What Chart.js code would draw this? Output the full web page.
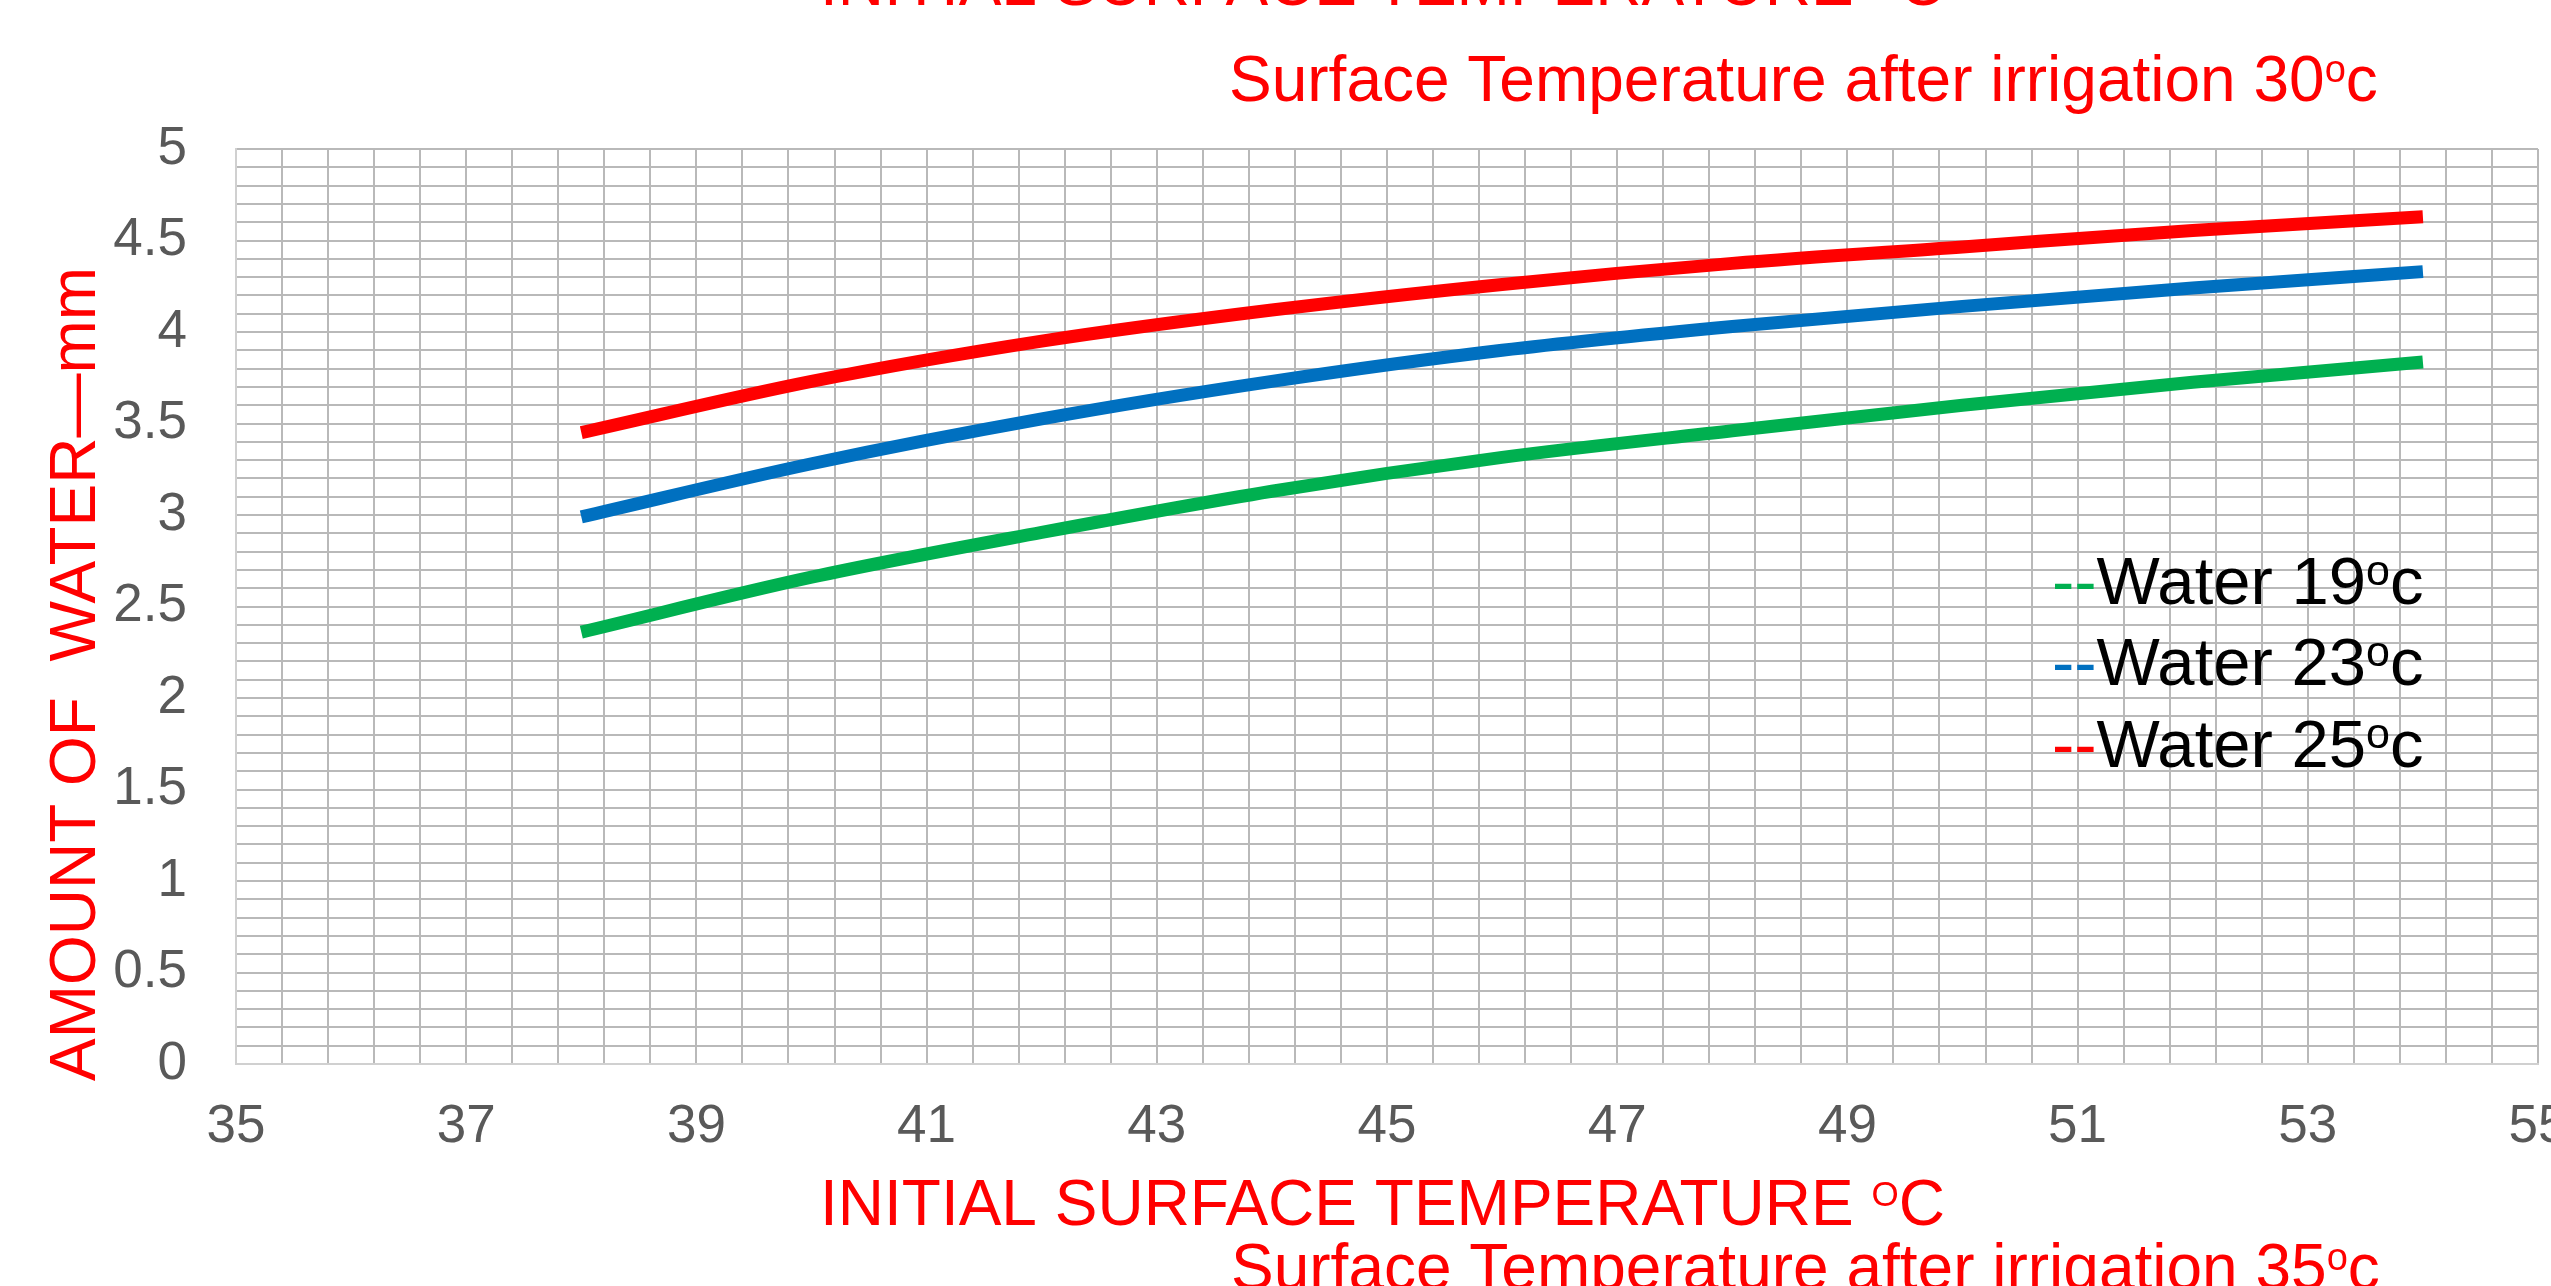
<!DOCTYPE html>
<html>
<head>
<meta charset="utf-8">
<script src="https://cdn.jsdelivr.net/npm/chart.js@4.4.1/dist/chart.umd.min.js"></script>
<style>
  html, body { margin: 0; padding: 0; background: #fff; overflow: hidden; }
  canvas { display: block; }
</style>
</head>
<body>
<canvas id="chart" width="2551" height="1286"></canvas>
<script>
// values
const temps   = [38, 40, 42, 44, 46, 48, 50, 52, 54];
const water19 = [2.36, 2.66, 2.905, 3.13, 3.315, 3.46, 3.60, 3.725, 3.836];
const water23 = [2.99, 3.28, 3.525, 3.73, 3.90, 4.03, 4.14, 4.24, 4.33];
const water25 = [3.45, 3.73, 3.95, 4.12, 4.26, 4.375, 4.465, 4.555, 4.63];

const seriesLabels = ["Water 19°c", "Water 23°c", "Water 25°c"];
const seriesColors = ["#00B050", "#0070C0", "#FF0000"];

const xTickLabels = [35, 37, 39, 41, 43, 45, 47, 49, 51, 53, 55];
const yTickLabels = [0, 0.5, 1, 1.5, 2, 2.5, 3, 3.5, 4, 4.5, 5];

const titleText  = "INITIAL SURFACE TEMPERATURE °C";
const topNote    = "Surface Temperature after irrigation 30°c";
const bottomNote = "Surface Temperature after irrigation 35°c";
const yTitle     = "AMOUNT OF  WATER\u2014mm";

const FONT = '"Liberation Sans", Arial, sans-serif';
const gridColor = "#b9b9b9";
const tickColor = "#595959";

function isLabelled(v, list) {
  return list.some(t => Math.abs(t - v) < 1e-6);
}

// text with "°" drawn as a raised small letter
function drawRich(ctx, str, x, y, size, color, supChar, supScale) {
  const parts = str.split("°");
  const k = supScale || 0.55;
  ctx.fillStyle = color;
  ctx.textAlign = "left";
  ctx.textBaseline = "alphabetic";
  let pen = x;
  parts.forEach((p, i) => {
    if (i > 0) {
      ctx.font = `${Math.round(size * k)}px ${FONT}`;
      ctx.fillText(supChar, pen, y - size * 0.29);
      pen += ctx.measureText(supChar).width;
    }
    ctx.font = `${size}px ${FONT}`;
    ctx.fillText(p, pen, y);
    pen += ctx.measureText(p).width;
  });
  return pen;
}

const textPlugin = {
  id: "textPlugin",
  afterDraw(chart) {
    const ctx = chart.ctx;
    ctx.save();

    drawRich(ctx, titleText, 820, 5, 64, "#FF0000", "O");
    drawRich(ctx, topNote, 1229, 101, 64, "#FF0000", "o", 0.6);
    drawRich(ctx, titleText, 820, 1225, 64, "#FF0000", "O");
    drawRich(ctx, bottomNote, 1231, 1289, 64, "#FF0000", "o", 0.6);

    // y axis title
    ctx.save();
    ctx.translate(95, 1081);
    ctx.rotate(-Math.PI / 2);
    drawRich(ctx, yTitle, 0, 0, 64, "#FF0000", "o");
    ctx.restore();

    // legend: coloured "--" then the label
    const rows = [604, 685, 767];
    chart.data.datasets.forEach((ds, i) => {
      ctx.font = `67px ${FONT}`;
      ctx.fillStyle = ds.borderColor;
      ctx.textBaseline = "alphabetic";
      ctx.textAlign = "left";
      ctx.fillText("--", 2052, rows[i]);
      const w = ctx.measureText("--").width;
      drawRich(ctx, ds.label, 2052 + w, rows[i], 67, "#000000", "o", 0.64);
    });

    ctx.restore();
  }
};

const datasets = [water19, water23, water25].map((vals, i) => ({
  label: seriesLabels[i],
  data: temps.map((t, j) => ({ x: t, y: vals[j] })),
  borderColor: seriesColors[i],
  backgroundColor: seriesColors[i],
  borderWidth: 13,
  borderCapStyle: "butt",
  pointRadius: 0,
  fill: false,
  cubicInterpolationMode: "monotone"
}));

new Chart(document.getElementById("chart"), {
  type: "line",
  data: { datasets },
  options: {
    responsive: false,
    animation: false,
    devicePixelRatio: 1,
    layout: { padding: { top: 149, right: 13, bottom: 0, left: 0 } },
    plugins: {
      legend: { display: false },
      title: { display: false },
      tooltip: { enabled: false }
    },
    scales: {
      x: {
        type: "linear",
        min: 35,
        max: 55,
        grid: { color: gridColor, lineWidth: 2, drawTicks: false },
        border: { color: "#d0d0d0", width: 2 },
        ticks: {
          stepSize: 0.4,
          autoSkip: false,
          maxRotation: 0,
          padding: 32,
          color: tickColor,
          font: { family: FONT, size: 53 },
          callback: v => isLabelled(v, xTickLabels) ? String(Math.round(v)) : ""
        },
        afterFit: s => { s.height = 222; s.paddingLeft = 0; s.paddingRight = 0; }
      },
      y: {
        min: 0,
        max: 5,
        grid: { color: gridColor, lineWidth: 2, drawTicks: false },
        border: { color: "#d0d0d0", width: 2 },
        ticks: {
          stepSize: 0.1,
          autoSkip: false,
          padding: 49,
          color: tickColor,
          font: { family: FONT, size: 53 },
          callback: v => isLabelled(v, yTickLabels) ? String(Math.round(v * 10) / 10) : ""
        },
        afterFit: s => { s.width = 236; s.paddingTop = 0; s.paddingBottom = 0; }
      }
    }
  },
  plugins: [textPlugin]
});
</script>
</body>
</html>
